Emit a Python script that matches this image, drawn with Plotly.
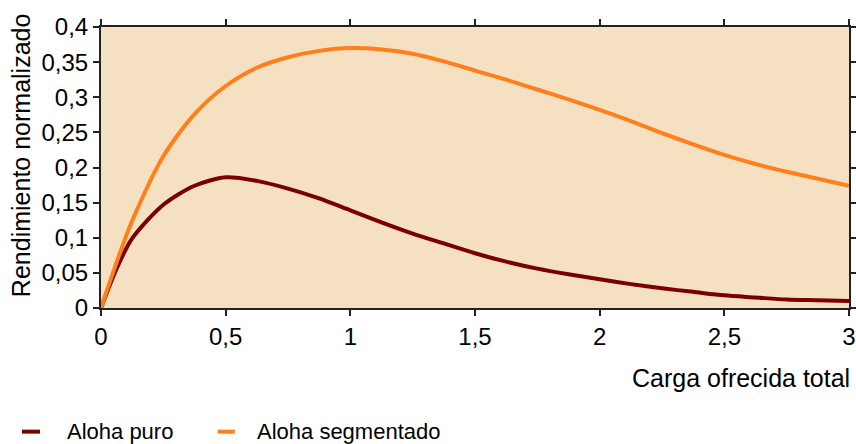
import plotly.graph_objects as go

# Carga ofrecida total (G)
carga = [0, 0.0625, 0.125, 0.25, 0.375, 0.5, 0.625, 0.75, 0.875, 1.0, 1.125,
         1.25, 1.375, 1.5, 1.625, 1.75, 1.875, 2.0, 2.125, 2.25, 2.375, 2.5,
         2.625, 2.75, 2.875, 3.0]

# Rendimiento
aloha_puro = [0, 0.056, 0.099, 0.147, 0.174, 0.186, 0.181, 0.170, 0.156,
              0.139, 0.122, 0.106, 0.092, 0.078, 0.066, 0.056, 0.048, 0.041,
              0.034, 0.028, 0.023, 0.018, 0.015, 0.012, 0.011, 0.010]
aloha_segmentado = [0, 0.065, 0.124, 0.216, 0.276, 0.316, 0.342, 0.357,
                    0.366, 0.370, 0.368, 0.362, 0.351, 0.338, 0.325, 0.311,
                    0.297, 0.282, 0.266, 0.249, 0.233, 0.218, 0.205, 0.194,
                    0.184, 0.174]

nombres = ["Aloha puro", "Aloha segmentado"]
colores = ["#7a0000", "#ff7f1a"]

FONT = "Liberation Sans, Arial, sans-serif"

fig = go.Figure()
for nombre, valores, color in zip(nombres, [aloha_puro, aloha_segmentado], colores):
    fig.add_trace(go.Scatter(
        x=carga, y=valores, name=nombre, mode="lines",
        line=dict(color=color, width=4, shape="spline", smoothing=0.8),
        showlegend=False,
    ))

fig.update_layout(
    width=856, height=444,
    margin=dict(l=101, r=7, t=27, b=136),
    paper_bgcolor="white",
    plot_bgcolor="#f5e1c2",
    separators=",.",
    font=dict(family=FONT, size=24, color="black"),
    xaxis=dict(
        range=[0, 3], dtick=0.5, showgrid=False, zeroline=False,
        showline=True, linecolor="#222", linewidth=2, mirror="ticks",
        ticks="outside", ticklen=6, tickcolor="#222", tickwidth=1.5,
        tickfont=dict(size=24), automargin=False,
    ),
    yaxis=dict(
        range=[0, 0.4], dtick=0.05, showgrid=False, zeroline=False,
        showline=True, linecolor="#222", linewidth=2, mirror="ticks",
        ticks="outside", ticklen=6, tickcolor="#222", tickwidth=1.5,
        tickfont=dict(size=24), automargin=False,
    ),
)

# títulos de ejes
fig.add_annotation(text="Rendimiento normalizado", xref="paper", yref="paper",
                   x=-0.106, y=0.543, textangle=-90, showarrow=False,
                   xanchor="center", yanchor="middle", font=dict(size=25))
fig.add_annotation(text="Carga ofrecida total", xref="paper", yref="paper",
                   x=1.004, y=-0.249, showarrow=False,
                   xanchor="right", yanchor="middle", font=dict(size=25))

# leyenda
ley_x = [(-0.1056, -0.0816, -0.048), (0.156, 0.179, 0.206)]
for (x0, x1, xt), nombre, color in zip(ley_x, nombres, colores):
    fig.add_shape(type="line", xref="paper", yref="paper",
                  x0=x0, x1=x1, y0=-0.440, y1=-0.440,
                  line=dict(color=color, width=4))
    fig.add_annotation(text=nombre, xref="paper", yref="paper",
                       x=xt, y=-0.440, showarrow=False,
                       xanchor="left", yanchor="middle", font=dict(size=22))

fig.write_html("out.html", config={"displayModeBar": False},
               post_script="document.body.style.margin='0';")
